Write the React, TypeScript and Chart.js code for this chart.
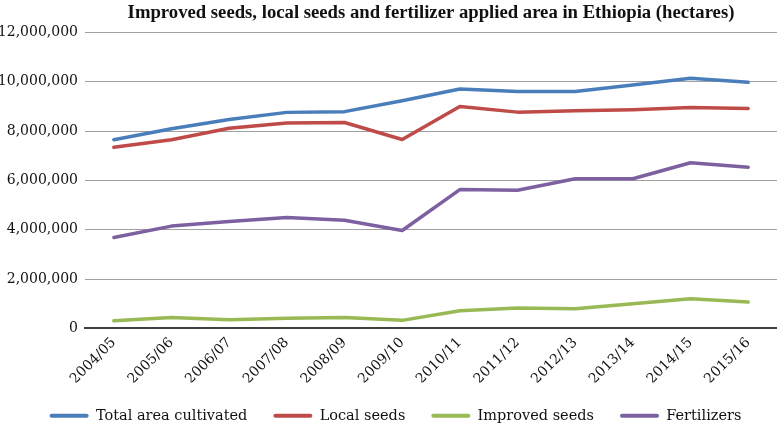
import React, { useEffect, useRef } from "react";
import { Chart, registerables } from "chart.js";

Chart.register(...registerables);

const categories = ["2004/05", "2005/06", "2006/07", "2007/08", "2008/09", "2009/10", "2010/11", "2011/12", "2012/13", "2013/14", "2014/15", "2015/16"];
const totalArea = [7650000, 8100000, 8470000, 8760000, 8790000, 9230000, 9710000, 9610000, 9610000, 9870000, 10140000, 9980000];
const localSeeds = [7350000, 7650000, 8120000, 8330000, 8350000, 7660000, 9000000, 8770000, 8830000, 8870000, 8960000, 8920000];
const improvedSeeds = [310000, 450000, 350000, 420000, 450000, 330000, 720000, 830000, 800000, 1000000, 1210000, 1070000];
const fertilizers = [3690000, 4150000, 4340000, 4500000, 4390000, 3970000, 5630000, 5600000, 6070000, 6070000, 6720000, 6540000];
const seriesNames = ["Total area cultivated", "Local seeds", "Improved seeds", "Fertilizers"];
const seriesColors = ["#4A7EBB", "#BE4B48", "#98B954", "#7D60A0"];
const titleText = "Improved seeds, local seeds and fertilizer applied area in Ethiopia (hectares)";

const serif = "'DejaVu Serif', serif";

const legendShift = {
  id: "legendShift",
  afterLayout(chart: any) {
    if (chart.legend) {
      chart.legend.left += 7;
      chart.legend.right += 7;
    }
  },
};

export default function App() {
  const ref = useRef<HTMLCanvasElement>(null);
  useEffect(() => {
    if (!ref.current) return;
    const values = [totalArea, localSeeds, improvedSeeds, fertilizers];
    const chart = new Chart(ref.current, {
      type: "line",
      data: {
        labels: categories,
        datasets: values.map((v, i) => ({
          label: seriesNames[i],
          data: v,
          borderColor: seriesColors[i],
          backgroundColor: seriesColors[i],
          borderWidth: 3.5,
          pointRadius: 0,
          tension: 0,
          borderCapStyle: "round" as const,
          borderJoinStyle: "round" as const,
        })),
      },
      plugins: [legendShift],
      options: {
        responsive: false,
        animation: false,
        layout: { padding: { top: 0, right: 0, bottom: -8, left: 0 } },
        plugins: {
          title: {
            display: true,
            text: titleText,
            fullSize: false,
            color: "#111",
            font: { family: "'Liberation Serif', serif", size: 18.7, weight: "bold" },
            padding: { top: 2, bottom: 8 },
          },
          legend: {
            position: "bottom",
            labels: {
              color: "#111",
              font: { family: serif, size: 14.5 },
              boxWidth: 39,
              boxHeight: 4,
              padding: 26,
              generateLabels: (c: any) =>
                c.data.datasets.map((d: any, i: number) => ({
                  text: d.label,
                  fillStyle: d.borderColor,
                  strokeStyle: d.borderColor,
                  lineWidth: 0,
                  hidden: false,
                  datasetIndex: i,
                  borderRadius: 2,
                  fontColor: "#111",
                })),
            },
          },
          tooltip: { enabled: false },
        },
        scales: {
          x: {
            offset: true,
            grid: { display: false, drawTicks: false },
            border: { display: true, color: "#404040", width: 2 },
            afterFit: (s: any) => {
              s.height = s.height - 11;
            },
            ticks: {
              color: "#111",
              font: { family: serif, size: 14 },
              minRotation: 45,
              maxRotation: 45,
              padding: 6,
              autoSkip: false,
            },
          },
          y: {
            min: 0,
            max: 12000000,
            grid: { color: "#A0A0A0", lineWidth: 1, drawTicks: false },
            border: { display: false },
            afterFit: (s: any) => {
              s.width = 85;
            },
            ticks: {
              stepSize: 2000000,
              color: "#111",
              padding: 7,
              font: { family: serif, size: 14 },
              callback: (v: any) => Number(v).toLocaleString("en-US"),
            },
          },
        },
      },
    });
    return () => chart.destroy();
  }, []);
  return (
    <div style={{ position: "absolute", left: 0, top: 0, width: 777, height: 425, background: "#fff" }}>
      <canvas ref={ref} width={777} height={425} />
    </div>
  );
}
